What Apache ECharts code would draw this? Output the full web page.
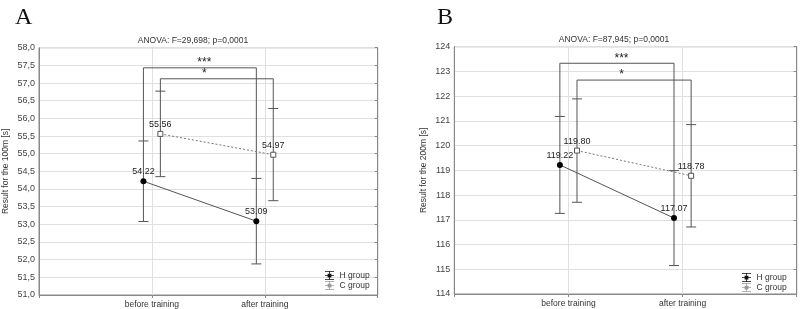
<!DOCTYPE html>
<html>
<head>
<meta charset="utf-8">
<script src="https://cdn.jsdelivr.net/npm/echarts@6/dist/echarts.min.js"></script>
<style>
  html, body { margin: 0; padding: 0; background: #fff; }
  #echar { width: 800px; height: 309px; }
</style>
</head>
<body>
<div id="echar"></div>
<script>
// categories and values
var categories = ["before training", "after training"];
var seriesNames = ["H group", "C group"];

// panel A - 100m
var hMeanA = [54.22, 53.09];
var hLowA = [53.08, 51.88];
var hHighA = [55.36, 54.30];
var cMeanA = [55.56, 54.97];
var cLowA = [54.35, 53.67];
var cHighA = [56.77, 56.28];
var starsA = ["***", "*"];
var bracketA = [57.43, 57.12];
var titleA = "ANOVA: F=29,698; p=0,0001";

// panel B - 200m
var hMeanB = [119.22, 117.07];
var hLowB = [117.26, 115.15];
var hHighB = [121.18, 118.99];
var cMeanB = [119.80, 118.78];
var cLowB = [117.71, 116.71];
var cHighB = [121.89, 120.85];
var starsB = ["***", "*"];
var bracketB = [123.33, 122.65];
var titleB = "ANOVA: F=87,945; p=0,0001";

var off = 0.075;
var gray = "#555";
var fs = 8.5;

function pts(means, shift) {
  return means.map(function (v, i) { return [i + 1 + shift, v]; });
}
function bars(low, high, shift) {
  return low.map(function (v, i) { return [i + 1 + shift, v, high[i]]; });
}

function renderErr(params, api) {
  var x = api.value(0);
  var lo = api.coord([x, api.value(1)]);
  var hi = api.coord([x, api.value(2)]);
  var h = 5;
  var st = { stroke: gray, lineWidth: 1 };
  return {
    type: "group",
    children: [
      { type: "line", shape: { x1: hi[0], y1: hi[1], x2: lo[0], y2: lo[1] }, style: st },
      { type: "line", shape: { x1: hi[0] - h, y1: hi[1], x2: hi[0] + h, y2: hi[1] }, style: st },
      { type: "line", shape: { x1: lo[0] - h, y1: lo[1], x2: lo[0] + h, y2: lo[1] }, style: st }
    ]
  };
}

function bracketRender(stars) {
  return function (params, api) {
    var a = api.coord([api.value(0), api.value(3)]);
    var b = api.coord([api.value(0), api.value(2)]);
    var c = api.coord([api.value(1), api.value(2)]);
    var d = api.coord([api.value(1), api.value(4)]);
    var m = api.coord([1.5, api.value(2)]);
    return {
      type: "group",
      children: [
        { type: "polyline", shape: { points: [a, b, c, d] }, style: { stroke: gray, lineWidth: 1, fill: null } },
        { type: "text", x: m[0] - 4, y: m[1] + 1, style: { text: stars[params.dataIndex], font: "12px 'Liberation Sans'", fill: "#222", align: "center", verticalAlign: "bottom" } }
      ]
    };
  };
}

var errIcon = "path://M0,0H12V1H0Z M5.5,0H6.5V12H5.5Z M0,11H12V12H0Z M0,5.5H12V6.5H0Z M3.5,3.5H8.5V8.5H3.5Z";

function makePanel(idx, cfg) {
  var grid = { left: cfg.left, top: cfg.top, width: cfg.width, height: cfg.height, show: true, borderColor: "#888", borderWidth: 1, backgroundColor: "#fff" };
  var xAxis = {
    gridIndex: idx, type: "value", min: 0, max: 3, interval: 1,
    axisLine: { show: true, lineStyle: { color: "#888" } },
    axisTick: { show: true, length: 3, lineStyle: { color: "#888" } },
    splitLine: { show: true, lineStyle: { color: "#e0e0e0" } },
    axisLabel: { color: "#333", fontSize: fs, fontFamily: "Liberation Sans", margin: 5,
      formatter: function (v) { return categories[v - 1] || ""; } }
  };
  var yAxis = {
    gridIndex: idx, type: "value", min: cfg.min, max: cfg.max, interval: cfg.interval,
    name: cfg.yName, nameLocation: "middle", nameGap: cfg.nameGap,
    nameTextStyle: { color: "#333", fontSize: fs, fontFamily: "Liberation Sans" },
    axisLine: { show: true, lineStyle: { color: "#888" } },
    axisTick: { show: false },
    splitLine: { show: true, lineStyle: { color: "#e0e0e0" } },
    axisLabel: { color: "#444", fontSize: 9, fontFamily: "Liberation Sans", margin: 4,
      formatter: function (v) { return cfg.decimals ? v.toFixed(1).replace(".", ",") : String(v); } }
  };
  var yRight = {
    gridIndex: idx, type: "value", min: cfg.min, max: cfg.max, interval: cfg.interval, position: "right",
    axisLine: { show: true, lineStyle: { color: "#888" } },
    axisTick: { show: true, inside: true, length: 3, lineStyle: { color: "#888" } },
    axisLabel: { show: false }, splitLine: { show: false }
  };
  var lbl = { show: true, position: "top", distance: 2, color: "#222", fontSize: 9, fontFamily: "Liberation Sans",
    formatter: function (p) { return p.value[1].toFixed(2); } };
  var series = [
    { type: "custom", name: "errH" + idx, xAxisIndex: idx, yAxisIndex: idx * 2, renderItem: renderErr, data: bars(cfg.hLow, cfg.hHigh, -off), z: 1, silent: true },
    { type: "custom", name: "errC" + idx, xAxisIndex: idx, yAxisIndex: idx * 2, renderItem: renderErr, data: bars(cfg.cLow, cfg.cHigh, off), z: 1, silent: true },
    { type: "custom", name: "br" + idx, xAxisIndex: idx, yAxisIndex: idx * 2, renderItem: bracketRender(cfg.stars), silent: true, z: 1,
      data: [
        [1 - off, 2 - off, cfg.bracket[0], cfg.hHigh[0], cfg.hHigh[1]],
        [1 + off, 2 + off, cfg.bracket[1], cfg.cHigh[0], cfg.cHigh[1]]
      ] },
    { type: "line", name: seriesNames[0], xAxisIndex: idx, yAxisIndex: idx * 2, data: pts(cfg.hMean, -off),
      symbol: "circle", symbolSize: 6, lineStyle: { color: "#555", width: 1 }, itemStyle: { color: "#000" },
      label: lbl, z: 3, animation: false },
    { type: "line", name: seriesNames[1], xAxisIndex: idx, yAxisIndex: idx * 2, data: pts(cfg.cMean, off),
      symbol: "rect", symbolSize: 5, lineStyle: { color: "#777", width: 1, type: [2, 2] },
      itemStyle: { color: "#fff", borderColor: "#555", borderWidth: 1 },
      label: lbl, z: 3, animation: false }
  ];
  var legend = {
    orient: "vertical", left: cfg.legendLeft, top: cfg.legendTop, itemWidth: 12, itemHeight: 9, itemGap: 1,
    textStyle: { color: "#333", fontSize: fs, fontFamily: "Liberation Sans", padding: [0, 0, 0, -1] },
    selectedMode: false,
    data: [
      { name: seriesNames[0], icon: errIcon, itemStyle: { color: "#111", borderWidth: 0 } },
      { name: seriesNames[1], icon: errIcon, itemStyle: { color: "#999", borderWidth: 0 } }
    ]
  };
  return { grid: grid, xAxis: xAxis, yAxis: [yAxis, yRight], series: series, legend: legend };
}

var pA = makePanel(0, { left: 37.5, top: 47.7, width: 340.2, height: 247.3, min: 51, max: 58, interval: 0.5, decimals: true,
  yName: "Result for the 100m [s]", nameGap: 29, hMean: hMeanA, hLow: hLowA, hHigh: hHighA, cMean: cMeanA, cLow: cLowA, cHigh: cHighA,
  stars: starsA, bracket: bracketA, legendLeft: 320, legendTop: 266 });
var pB = makePanel(1, { left: 454.3, top: 46.7, width: 342.4, height: 247.3, min: 114, max: 124, interval: 1, decimals: false,
  yName: "Result for the 200m [s]", nameGap: 26, hMean: hMeanB, hLow: hLowB, hHigh: hHighB, cMean: cMeanB, cLow: cLowB, cHigh: cHighB,
  stars: starsB, bracket: bracketB, legendLeft: 737, legendTop: 268 });

var mychart = echarts.init(document.getElementById("echar"));
var option = {
  backgroundColor: "#fff",
  animation: false,
  title: [
    { text: "A", left: 10, top: 1, textStyle: { fontFamily: "Liberation Serif", fontSize: 24, fontWeight: "normal", color: "#111" } },
    { text: "B", left: 432, top: 1, textStyle: { fontFamily: "Liberation Serif", fontSize: 24, fontWeight: "normal", color: "#111" } },
    { text: titleA, left: 188, top: 31, textAlign: "center", textStyle: { fontFamily: "Liberation Sans", fontSize: fs, fontWeight: "normal", color: "#333" } },
    { text: titleB, left: 609, top: 30, textAlign: "center", textStyle: { fontFamily: "Liberation Sans", fontSize: fs, fontWeight: "normal", color: "#333" } }
  ],
  grid: [pA.grid, pB.grid],
  xAxis: [pA.xAxis, pB.xAxis],
  yAxis: pA.yAxis.concat(pB.yAxis),
  legend: [pA.legend, pB.legend],
  series: pA.series.concat(pB.series)
};
mychart.setOption(option);
</script>
</body>
</html>
